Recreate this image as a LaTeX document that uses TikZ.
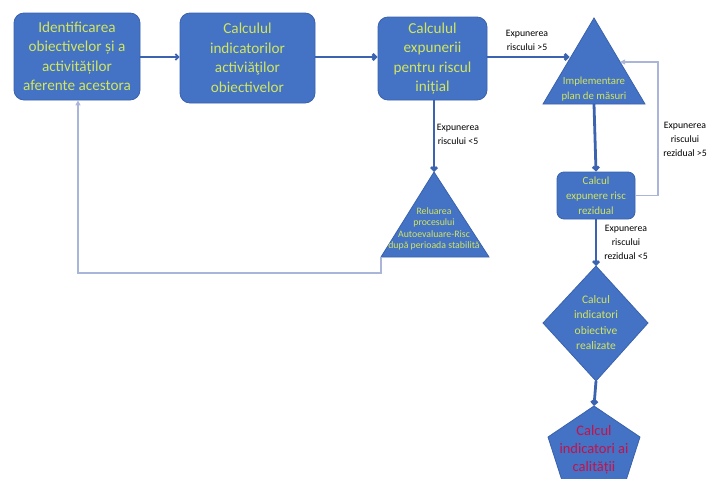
\documentclass[tikz,border=0pt]{standalone}
\usepackage{fontspec}
\setmainfont{Carlito}
\usetikzlibrary{arrows.meta}
\definecolor{fillblue}{HTML}{4472C4}
\definecolor{edgeblue}{HTML}{3A62AC}
\definecolor{txtgreen}{HTML}{D2E65E}
\definecolor{linkblue}{HTML}{3C63B0}
\definecolor{backline}{HTML}{A9B5D9}
\definecolor{txtred}{HTML}{C4124A}
\tikzset{
  stepbox/.style={draw=edgeblue, line width=0.8pt, fill=fillblue, rounded corners=10pt,
    inner sep=0pt, align=center, text=txtgreen},
  shapefill/.style={draw=edgeblue, line width=0.8pt, fill=fillblue},
  shapetext/.style={inner sep=0pt, align=center, text=txtgreen},
  bigtxt/.style={font=\fontsize{15.2}{19.5}\selectfont},
  midtxt/.style={font=\fontsize{11}{15}\selectfont},
  smalltxt/.style={font=\fontsize{9.8}{14}\selectfont},
  flow/.style={draw=linkblue, line width=2.8pt, -{Straight Barb[length=3pt,width=6pt]}},
  thinflow/.style={draw=linkblue, line width=1.8pt, -{Straight Barb[length=3pt,width=6pt]}},
  backflow/.style={draw=backline, line width=1.2pt, -{Triangle[length=5pt,width=5pt]}},
  cond/.style={inner sep=0pt, align=center, smalltxt, text=black}
}
\begin{document}
\begin{tikzpicture}[x=1pt,y=-1pt]
\useasboundingbox (0,0) rectangle (707,479);

% rounded process boxes
\node[stepbox, bigtxt, minimum width=126pt, minimum height=87pt] (ident) at (77,56.5)
  {Identificarea\\obiectivelor și a\\activităților\\aferente acestora};
\node[stepbox, bigtxt, minimum width=135pt, minimum height=90pt] (indic) at (247.5,58)
  {Calculul\\indicatorilor\\activiăţilor\\obiectivelor};
\node[stepbox, bigtxt, minimum width=109pt, minimum height=83pt] (expin) at (432.5,58.5)
  {Calculul\\expunerii\\pentru riscul\\inițial};
\node[stepbox, midtxt, rounded corners=7pt, minimum width=78pt, minimum height=47pt] (rezid) at (596,195.5)
  {Calcul\\expunere risc\\rezidual};

% triangle: plan of measures
\coordinate (planTop) at (594,18);
\coordinate (planL) at (543,104);
\coordinate (planR) at (645,104);
\coordinate (planBase) at (594,104);
\coordinate (planIn) at (569.6,57);
\coordinate (planBack) at (620.1,62);
\fill[shapefill] (planTop) -- (planR) -- (planL) -- cycle;
\node[shapetext, font=\fontsize{10.8}{15}\selectfont] (plan) at (594,89.5) {Implementare\\plan de măsuri};

% triangle: restart of the self-assessment
\coordinate (restTop) at (434,172);
\coordinate (restL) at (381,257);
\coordinate (restR) at (489,257);
\fill[shapefill] (restTop) -- (restR) -- (restL) -- cycle;
\node[shapetext, font=\fontsize{9.8}{11.5}\selectfont] (rest) at (434,229)
  {Reluarea\\procesului\\Autoevaluare-Risc\\după perioada stabilită};

% diamond: achieved objectives
\coordinate (diaTop) at (596,266);
\coordinate (diaR) at (648,323);
\coordinate (diaBot) at (596,381);
\coordinate (diaL) at (543,323);
\fill[shapefill] (diaTop) -- (diaR) -- (diaBot) -- (diaL) -- cycle;
\node[shapetext, font=\fontsize{11.5}{15.6}\selectfont] (dia) at (596,322.5)
  {Calcul\\indicatori\\obiective\\realizate};

% pentagon: quality indicators
\coordinate (penTop) at (594,406);
\fill[shapefill] (penTop) -- (640,437) -- (622,493) -- (566,493) -- (548,437) -- cycle;
\node[shapetext, text=txtred, font=\fontsize{14.5}{18}\selectfont] (pen) at (594,450)
  {Calcul\\indicatori ai\\calității};

% main flow
\draw[thinflow] (ident.east |- 0,57) -- (indic.west |- 0,57);
\draw[flow] (indic.east |- 0,57) -- (expin.west |- 0,57);
\draw[flow] (expin.east |- 0,57) -- (planIn);
\draw[flow] (expin.south -| restTop) -- (restTop);
\draw[flow] (planBase) -- (rezid.north);
\draw[flow] (rezid.south) -- (diaTop);
\draw[flow] (diaBot) -- (penTop);

% feedback loops
\draw[backflow] (rezid.east) -- (658,195.5) -- (658,62) -- (planBack);
\draw[backflow] (restL) -- (381,273) -- (78,273) -- (ident.south -| 78,0);

% condition labels
\node[cond] (c1) at (527,40) {Expunerea\\riscului >5};
\node[cond] (c2) at (458,134.5) {Expunerea\\riscului <5};
\node[cond] (c3) at (685,139) {Expunerea\\riscului\\rezidual >5};
\node[cond] (c4) at (626,242) {Expunerea\\riscului\\rezidual <5};
\end{tikzpicture}
\end{document}
